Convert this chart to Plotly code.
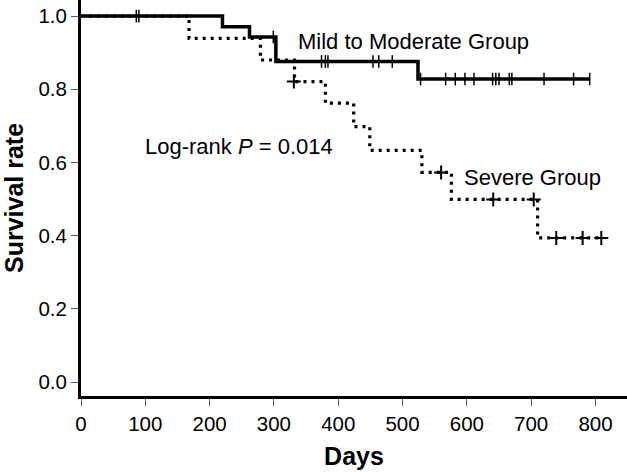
import plotly.graph_objects as go

# Mild to Moderate group (solid): event times and survival after each event
mild_days = [0, 220, 262, 303, 524, 791]
mild_surv = [1.0, 0.971, 0.943, 0.876, 0.828, 0.828]
mild_cens_days = [86, 90, 299, 374, 380, 384, 454, 463, 484,
                  528, 567, 582, 597, 611, 640, 645, 650, 666, 670, 720, 766, 791]
mild_cens_surv = [1.0, 1.0, 0.943, 0.876, 0.876, 0.876, 0.876, 0.876, 0.876,
                  0.828, 0.828, 0.828, 0.828, 0.828, 0.828, 0.828, 0.828, 0.828, 0.828, 0.828, 0.828, 0.828]

# Severe group (dotted)
sev_days = [0, 168, 279, 332, 380, 424, 449, 530, 576, 710, 810]
sev_surv = [1.0, 0.939, 0.880, 0.821, 0.762, 0.698, 0.633, 0.573, 0.499, 0.394, 0.394]
sev_cens_days = [331, 560, 641, 704, 739, 780, 809]
sev_cens_surv = [0.821, 0.573, 0.499, 0.499, 0.394, 0.394, 0.394]

x_ticks = [0, 100, 200, 300, 400, 500, 600, 700, 800]
y_ticks = [0.0, 0.2, 0.4, 0.6, 0.8, 1.0]

FONT = "Liberation Sans, Arial, sans-serif"

fig = go.Figure()
fig.add_trace(go.Scatter(x=mild_days, y=mild_surv, mode="lines", line_shape="hv",
                         line=dict(color="black", width=3.5), showlegend=False))
fig.add_trace(go.Scatter(x=mild_cens_days, y=mild_cens_surv, mode="markers",
                         marker=dict(symbol="line-ns", size=9, line=dict(color="black", width=1.5)),
                         showlegend=False))
fig.add_trace(go.Scatter(x=sev_days, y=sev_surv, mode="lines", line_shape="hv",
                         line=dict(color="black", width=3.2, dash="3px,5px"), showlegend=False))
fig.add_trace(go.Scatter(x=sev_cens_days, y=sev_cens_surv, mode="markers",
                         marker=dict(symbol="cross-thin", size=10, line=dict(color="black", width=2)),
                         showlegend=False))

fig.add_annotation(x=334, y=0.93, text="Mild to Moderate Group", showarrow=False,
                   xanchor="left", yanchor="middle", font=dict(size=22, color="black", family=FONT))
fig.add_annotation(x=96, y=0.644, text="Log-rank <i>P</i> = 0.014", showarrow=False,
                   xanchor="left", yanchor="middle", font=dict(size=22, color="black", family=FONT))
fig.add_annotation(x=593, y=0.559, text="Severe Group", showarrow=False,
                   xanchor="left", yanchor="middle", font=dict(size=22, color="black", family=FONT))

fig.update_layout(
    width=627, height=472,
    margin=dict(l=81, r=0, t=0, b=76),
    paper_bgcolor="white", plot_bgcolor="white",
    font=dict(family=FONT, color="black"),
    xaxis=dict(range=[0, 849], tickvals=x_ticks, ticks="outside", ticklen=7, tickwidth=1,
               tickcolor="#555", showline=True, linecolor="black", linewidth=3,
               showgrid=False, zeroline=False, tickfont=dict(size=20.5), automargin=False,
               title=dict(text="<b>Days</b>", font=dict(size=25), standoff=14)),
    yaxis=dict(range=[-0.038, 1.044], tickvals=y_ticks, tickformat=".1f", ticks="outside",
               ticklen=7, tickwidth=1, tickcolor="#555", showline=True, linecolor="black",
               linewidth=3, showgrid=False, zeroline=False, tickfont=dict(size=20.5), automargin=False,
               title=dict(text="<b>Survival rate</b>", font=dict(size=25), standoff=9)),
)

fig.write_html("out.html", config={"displayModeBar": False},
               post_script="document.body.style.margin='0';")
